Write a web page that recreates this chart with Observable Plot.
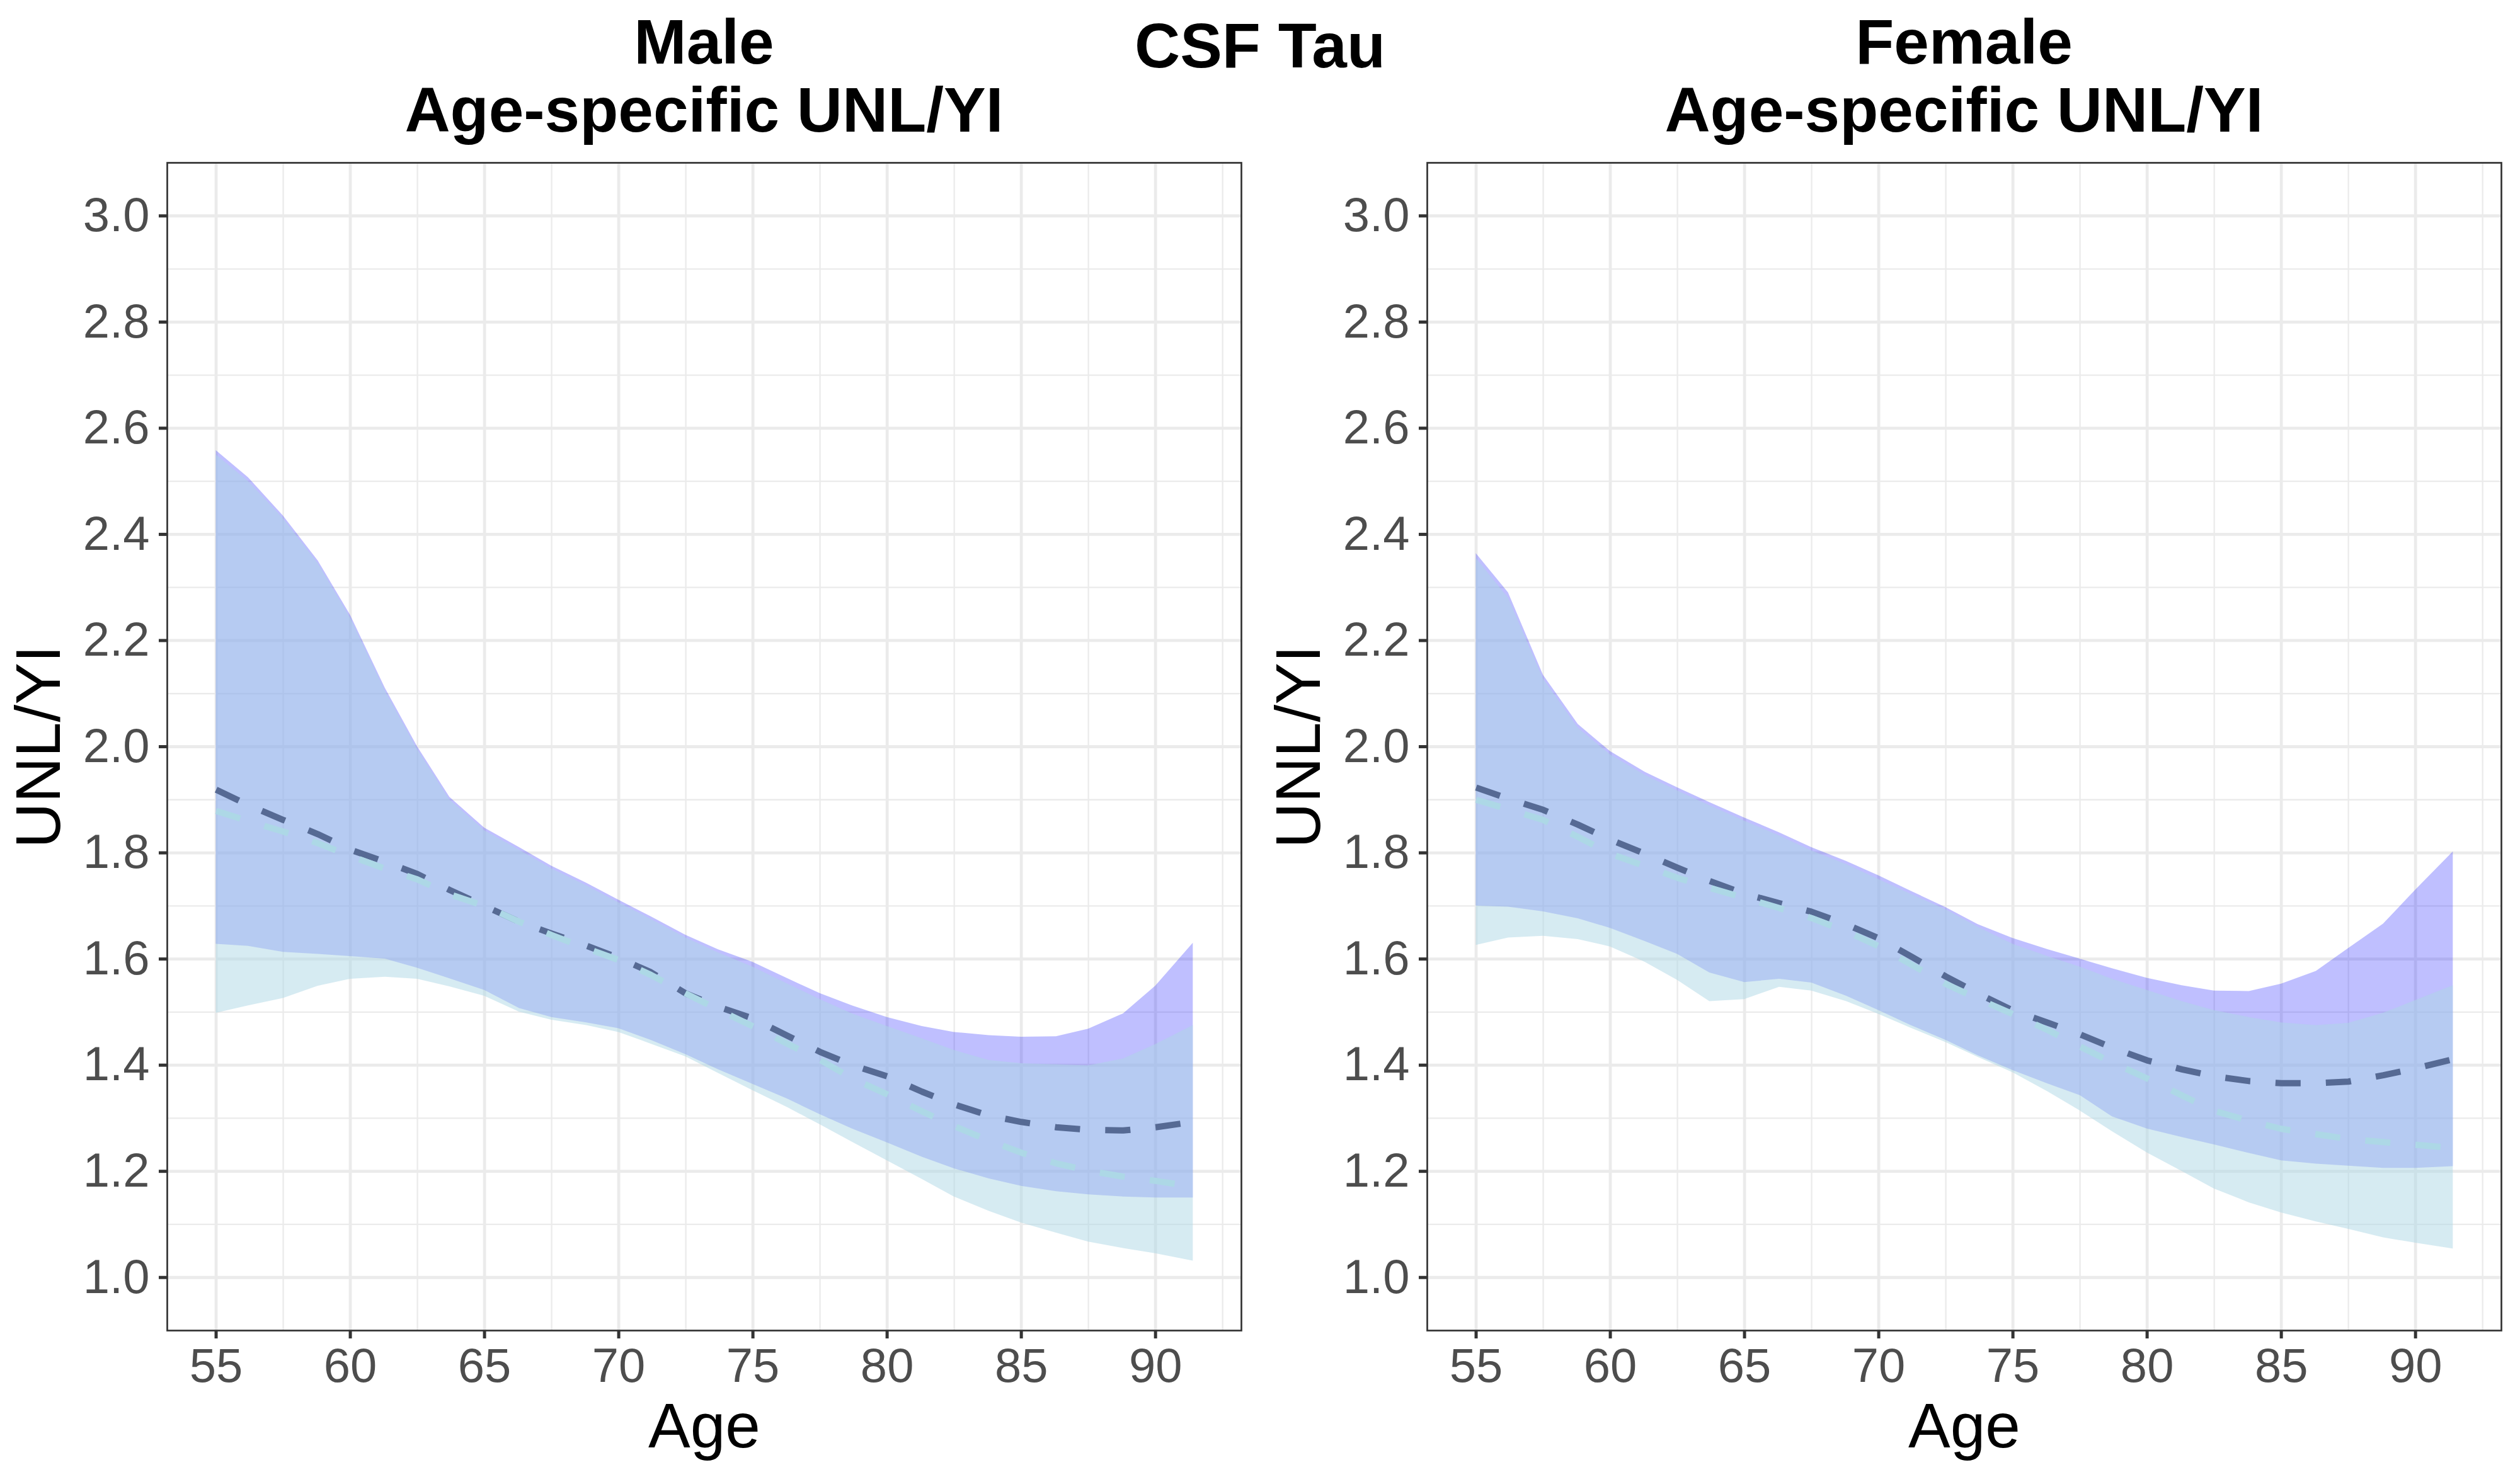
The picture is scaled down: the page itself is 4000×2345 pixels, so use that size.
<!DOCTYPE html>
<html><head><meta charset="utf-8">
<script src="https://cdn.jsdelivr.net/npm/d3@7"></script>
<script src="https://cdn.jsdelivr.net/npm/@observablehq/plot@0.6"></script>
<style>
html,body{margin:0;padding:0;background:#fff;}
#wrap{position:relative;width:4000px;height:2345px;font-family:"Liberation Sans",Arial,sans-serif;background:#fff;overflow:hidden;}
.title{position:absolute;font-weight:bold;font-size:100px;line-height:108px;text-align:center;color:#000;white-space:nowrap;transform:translateX(-50%);}
.panel{position:absolute;top:230px;}
</style></head><body>
<div id="wrap">
 <div class="title" style="left:1117.5px;top:12px">Male<br>Age-specific UNL/YI</div>
 <div class="title" style="left:2000px;top:18px">CSF Tau</div>
 <div class="title" style="left:3117.5px;top:12px">Female<br>Age-specific UNL/YI</div>
 <div class="panel" id="p0" style="left:0px"></div>
 <div class="panel" id="p1" style="left:2000px"></div>
</div>
<script>
const ages = [55, 56.2, 57.5, 58.8, 60, 61.3, 62.5, 63.7, 65, 66.3, 67.5, 68.8, 70, 71.2, 72.5, 73.7, 75, 76.3, 77.5, 78.7, 80, 81.3, 82.5, 83.8, 85, 86.3, 87.5, 88.8, 90, 91.4];

const maleBlueUpper = [2.558, 2.507, 2.435, 2.35, 2.248, 2.11, 2.00, 1.905, 1.847, 1.81, 1.775, 1.743, 1.711, 1.68, 1.645, 1.618, 1.594, 1.563, 1.535, 1.512, 1.49, 1.473, 1.462, 1.456, 1.453, 1.454, 1.468, 1.497, 1.549, 1.630];
const maleBlueLower = [1.628, 1.624, 1.613, 1.609, 1.605, 1.60, 1.583, 1.563, 1.541, 1.507, 1.49, 1.48, 1.469, 1.447, 1.42, 1.392, 1.364, 1.336, 1.307, 1.28, 1.254, 1.227, 1.205, 1.186, 1.172, 1.162, 1.156, 1.152, 1.150, 1.150];
const maleLightUpper = [2.55, 2.50, 2.43, 2.345, 2.243, 2.105, 1.995, 1.90, 1.842, 1.805, 1.77, 1.738, 1.706, 1.675, 1.64, 1.612, 1.585, 1.553, 1.524, 1.497, 1.473, 1.45, 1.428, 1.409, 1.403, 1.401, 1.399, 1.412, 1.439, 1.475];
const maleLightLower = [1.498, 1.512, 1.526, 1.549, 1.562, 1.566, 1.562, 1.548, 1.53, 1.50, 1.485, 1.475, 1.462, 1.44, 1.416, 1.385, 1.352, 1.32, 1.288, 1.255, 1.22, 1.185, 1.152, 1.125, 1.103, 1.084, 1.067, 1.055, 1.045, 1.031];
const maleDarkLine = [1.919, 1.89, 1.862, 1.835, 1.806, 1.783, 1.76, 1.73, 1.70, 1.67, 1.648, 1.625, 1.602, 1.575, 1.535, 1.51, 1.488, 1.455, 1.425, 1.40, 1.379, 1.35, 1.326, 1.305, 1.293, 1.283, 1.278, 1.277, 1.283, 1.293];
const maleLightLine = [1.879, 1.86, 1.84, 1.818, 1.794, 1.77, 1.75, 1.722, 1.70, 1.67, 1.645, 1.62, 1.598, 1.57, 1.535, 1.505, 1.473, 1.44, 1.41, 1.375, 1.345, 1.313, 1.285, 1.258, 1.235, 1.215, 1.201, 1.19, 1.182, 1.171];

const femaleBlueUpper = [2.364, 2.29, 2.135, 2.042, 1.991, 1.952, 1.923, 1.895, 1.866, 1.838, 1.81, 1.784, 1.757, 1.728, 1.697, 1.665, 1.639, 1.618, 1.60, 1.582, 1.564, 1.55, 1.54, 1.539, 1.553, 1.577, 1.62, 1.666, 1.73, 1.802];
const femaleBlueLower = [1.70, 1.698, 1.689, 1.676, 1.658, 1.633, 1.609, 1.574, 1.556, 1.562, 1.555, 1.53, 1.503, 1.475, 1.447, 1.418, 1.39, 1.365, 1.343, 1.303, 1.28, 1.264, 1.25, 1.234, 1.22, 1.214, 1.21, 1.206, 1.206, 1.209];
const femaleLightUpper = [2.355, 2.28, 2.128, 2.035, 1.985, 1.946, 1.917, 1.889, 1.86, 1.832, 1.804, 1.778, 1.75, 1.722, 1.693, 1.66, 1.628, 1.605, 1.585, 1.562, 1.541, 1.52, 1.503, 1.49, 1.48, 1.475, 1.479, 1.498, 1.522, 1.55];
const femaleLightLower = [1.626, 1.64, 1.643, 1.637, 1.623, 1.594, 1.56, 1.52, 1.524, 1.547, 1.54, 1.52, 1.496, 1.47, 1.443, 1.415, 1.386, 1.35, 1.314, 1.275, 1.235, 1.2, 1.167, 1.141, 1.122, 1.105, 1.091, 1.075, 1.065, 1.054];
const femaleDarkLine = [1.923, 1.902, 1.881, 1.853, 1.825, 1.798, 1.772, 1.747, 1.723, 1.705, 1.689, 1.665, 1.639, 1.605, 1.567, 1.535, 1.503, 1.48, 1.458, 1.433, 1.409, 1.392, 1.379, 1.37, 1.366, 1.366, 1.369, 1.381, 1.394, 1.411];
const femaleLightLine = [1.90, 1.882, 1.862, 1.83, 1.798, 1.775, 1.753, 1.734, 1.715, 1.696, 1.677, 1.652, 1.624, 1.59, 1.553, 1.525, 1.496, 1.466, 1.435, 1.405, 1.375, 1.343, 1.314, 1.295, 1.28, 1.27, 1.261, 1.255, 1.25, 1.244];

const xTicks = [55, 60, 65, 70, 75, 80, 85, 90];
const xMinor = [57.5, 62.5, 67.5, 72.5, 77.5, 82.5, 87.5, 92.5];
const yTicks = [1.0, 1.2, 1.4, 1.6, 1.8, 2.0, 2.2, 2.4, 2.6, 2.8, 3.0];
const yMinor = [1.1, 1.3, 1.5, 1.7, 1.9, 2.1, 2.3, 2.5, 2.7, 2.9];
const xLabel = "Age";
const yLabel = "UNL/YI";

function rowsFor(bu, bl, lu, ll, dk, lt) {
  return ages.map((a, i) => ({age: a, blueHi: bu[i], blueLo: bl[i], lightHi: lu[i], lightLo: ll[i], dark: dk[i], light: lt[i]}));
}

const FONT = '"Liberation Sans", Arial, sans-serif';

function panel(rows) {
  return Plot.plot({
    width: 2000, height: 2115,
    marginTop: 28, marginBottom: 233, marginLeft: 265, marginRight: 30,
    style: {fontFamily: FONT, background: "transparent", overflow: "visible"},
    x: {domain: [53.18, 93.2]},
    y: {domain: [0.9, 3.1]},
    marks: [
      Plot.ruleX(xMinor, {stroke: "#EBEBEB", strokeWidth: 2.3}),
      Plot.ruleY(yMinor, {stroke: "#EBEBEB", strokeWidth: 2.3}),
      Plot.ruleX(xTicks, {stroke: "#EBEBEB", strokeWidth: 4.8}),
      Plot.ruleY(yTicks, {stroke: "#EBEBEB", strokeWidth: 4.8}),
      Plot.areaY(rows, {x: "age", y1: "blueLo", y2: "blueHi", fill: "blue", fillOpacity: 0.25}),
      Plot.areaY(rows, {x: "age", y1: "lightLo", y2: "lightHi", fill: "lightblue", fillOpacity: 0.5}),
      Plot.line(rows, {x: "age", y: "dark", stroke: "#566A94", strokeWidth: 10, strokeDasharray: "40,40", strokeLinecap: "butt"}),
      Plot.line(rows, {x: "age", y: "light", stroke: "lightblue", strokeWidth: 10, strokeDasharray: "40,40", strokeLinecap: "butt"}),
      Plot.frame({stroke: "#333333", strokeWidth: 2.7}),
      Plot.axisX({ticks: xTicks, tickSize: 13, tickPadding: 15, fontSize: 76, stroke: "#333333", strokeWidth: 5, fill: "#4D4D4D", label: null, tickFormat: d3.format("d")}),
      Plot.axisY({ticks: yTicks, tickSize: 13, tickPadding: 15, fontSize: 76, stroke: "#333333", strokeWidth: 5, fill: "#4D4D4D", label: null, tickFormat: d3.format(".1f")}),
      Plot.text([xLabel], {text: d => d, frameAnchor: "bottom", lineAnchor: "middle", textAnchor: "middle", dy: 153, fontSize: 100, fill: "black"}),
      Plot.text([yLabel], {text: d => d, frameAnchor: "left", lineAnchor: "middle", textAnchor: "middle", dx: -203, rotate: -90, fontSize: 100, fill: "black"})
    ]
  });
}

document.getElementById("p0").appendChild(panel(rowsFor(maleBlueUpper, maleBlueLower, maleLightUpper, maleLightLower, maleDarkLine, maleLightLine)));
document.getElementById("p1").appendChild(panel(rowsFor(femaleBlueUpper, femaleBlueLower, femaleLightUpper, femaleLightLower, femaleDarkLine, femaleLightLine)));
</script>
</body></html>
